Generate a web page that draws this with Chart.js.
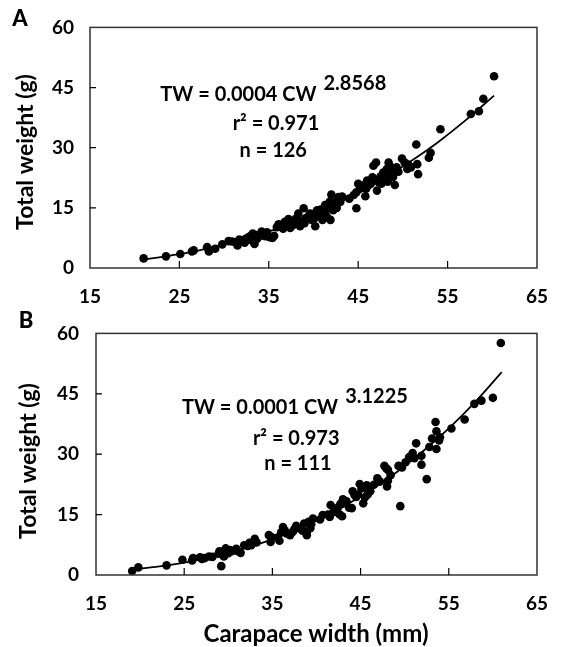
<!DOCTYPE html>
<html>
<head>
<meta charset="utf-8">
<script src="https://cdn.jsdelivr.net/npm/chart.js@4.4.1/dist/chart.umd.min.js"></script>
<style>
  body { margin: 0; background: #fff; width: 565px; height: 647px; position: relative; overflow: hidden; }
  canvas { position: absolute; left: 0; }
</style>
</head>
<body>
<canvas id="chartA" width="565" height="305" style="top:0"></canvas>
<canvas id="chartB" width="565" height="342" style="top:305px"></canvas>
<script>
// axis ticks
const xTicks = [15, 25, 35, 45, 55, 65];
const yTicks = [0, 15, 30, 45, 60];

// panel A: carapace width (mm) vs total weight (g), n = 126
const aWidth = [21.0, 23.5, 25.1, 26.4, 26.6, 28.1, 28.3, 29.0, 30.5, 31.5, 31.7, 32.3, 32.4, 32.9, 33.2, 33.4, 33.7, 34.2, 34.4, 34.8,
  35.1, 35.4, 36.1, 36.5, 37.0, 37.2, 37.4, 37.8, 38.1, 38.3, 38.5, 38.9, 39.1, 39.4, 39.8, 40.1, 40.2, 40.4, 40.5, 41.0,
  41.1, 41.3, 41.5, 41.8, 41.9, 42.0, 42.2, 42.5, 42.8, 43.0, 44.0, 44.8, 44.8, 45.0, 45.2, 45.6, 45.8, 46.0, 46.2, 46.6,
  46.7, 47.0, 47.1, 47.3, 47.6, 48.0, 48.2, 48.4, 48.5, 48.7, 49.0, 49.1, 49.3, 49.9, 50.2, 50.5, 50.9, 51.5, 51.6, 51.7,
  52.9, 53.1, 54.2, 57.6, 58.5, 59.0, 60.2,
  30.9, 31.9, 33.0, 34.0, 34.6, 35.6, 36.3, 36.8, 37.6, 38.0, 38.7, 39.6, 40.8, 41.6, 42.3, 43.2, 45.4, 46.4, 47.8, 48.8,
  49.5, 50.6, 39.0, 40.0, 41.2, 42.6, 44.5, 45.9, 46.9, 47.5, 48.3, 48.9, 36.6, 37.3, 35.9, 33.6, 32.7, 31.3, 29.8];
const aWeight = [2.4, 2.9, 3.5, 4.1, 4.4, 5.2, 4.1, 4.8, 6.7, 5.6, 7.1, 6.3, 7.3, 7.9, 8.6, 6.0, 7.3, 9.1, 8.3, 8.9,
  7.7, 7.5, 10.9, 10.8, 11.2, 12.2, 10.0, 10.8, 11.6, 13.6, 10.4, 14.9, 12.4, 12.8, 12.0, 12.4, 10.4, 14.4, 13.2, 12.0,
  14.0, 15.7, 12.8, 16.5, 12.0, 18.3, 14.4, 16.5, 17.7, 16.5, 17.3, 14.9, 18.9, 21.0, 19.8, 20.6, 17.9, 21.8, 20.7, 22.6,
  25.5, 26.3, 19.3, 21.4, 21.0, 22.4, 24.7, 26.3, 23.0, 25.1, 23.8, 20.7, 25.1, 27.3, 26.3, 24.7, 25.1, 30.8, 25.9, 23.4,
  27.5, 28.7, 34.6, 38.4, 39.1, 42.2, 47.8,
  6.6, 6.8, 7.0, 8.0, 7.9, 8.0, 10.3, 11.5, 11.0, 12.3, 11.8, 13.6, 14.6, 14.8, 15.5, 17.8, 20.2, 21.0, 23.8, 24.3,
  24.0, 25.8, 11.2, 13.5, 12.6, 15.0, 18.2, 19.8, 22.0, 22.8, 21.5, 22.7, 9.8, 10.5, 10.2, 8.2, 7.6, 6.4, 5.9];
// fitted curve as drawn in panel A
const aFitWidth = [21, 24, 27, 30, 33, 36, 39, 42, 45, 48, 51, 54, 57, 60.2];
const aFitWeight = [2.1, 3.1, 4.3, 5.9, 7.7, 9.9, 12.4, 15.4, 18.7, 22.5, 26.8, 31.5, 36.8, 43.0];

// panel B: n = 111
const bWidth = [19.1, 19.8, 23.0, 24.8, 25.9, 26.0, 26.8, 27.3, 27.8, 28.9, 29.0, 29.2, 29.4, 29.7, 30.0, 30.4, 30.9, 31.4, 31.8, 32.2,
  32.6, 33.0, 34.6, 34.8, 35.6, 35.8, 36.2, 36.4, 37.0, 37.3, 37.7, 38.2, 38.6, 38.9, 38.9, 39.1, 39.3, 39.6, 40.7, 41.3,
  41.5, 41.6, 42.4, 42.6, 42.9, 43.0, 43.1, 43.7, 44.0, 44.1, 44.3, 44.7, 44.9, 45.3, 45.5, 45.7, 45.9, 46.1, 46.9, 47.7,
  47.9, 48.1, 48.0, 48.1, 49.3, 49.5, 49.7, 50.5, 50.9, 51.3, 51.9, 51.9, 52.5, 53.1, 53.5, 53.6, 53.6, 54.0, 55.3, 57.9,
  58.7, 60.0, 60.9,
  27.0, 28.2, 29.5, 30.2, 31.1, 32.4, 33.2, 34.9, 36.0, 36.6, 37.5, 38.4, 39.4, 40.4, 41.9, 42.7, 43.4, 44.5, 45.1, 45.8,
  46.5, 47.2, 48.4, 50.1, 51.1, 52.8, 53.9, 56.8];
const bWeight = [1.0, 1.9, 2.4, 3.8, 3.6, 4.2, 4.4, 4.2, 4.6, 5.3, 5.9, 2.2, 5.0, 6.6, 5.4, 5.9, 6.5, 5.5, 7.4, 7.2,
  7.4, 9.0, 9.9, 8.2, 9.3, 8.5, 11.9, 11.1, 9.9, 10.7, 12.2, 11.5, 12.8, 9.9, 10.7, 13.2, 11.6, 14.0, 14.9, 15.0,
  14.4, 17.4, 16.7, 15.1, 14.6, 18.8, 17.8, 16.7, 16.6, 20.8, 19.9, 20.0, 22.6, 17.8, 19.3, 22.3, 21.1, 20.8, 24.0, 27.1,
  26.5, 23.4, 22.0, 26.1, 27.1, 17.1, 26.7, 29.3, 30.3, 32.7, 29.6, 27.4, 23.8, 33.9, 38.0, 35.7, 31.3, 34.2, 36.4, 42.5,
  43.3, 44.0, 57.6,
  4.0, 4.5, 4.6, 6.2, 5.9, 8.0, 8.1, 9.4, 10.6, 10.3, 11.4, 11.0, 12.6, 13.8, 15.6, 17.6, 18.3, 19.4, 21.5, 20.0,
  22.4, 23.2, 24.8, 28.0, 29.0, 31.8, 33.4, 38.6];
const bFitWidth = [19.3, 22, 25, 28, 31, 34, 37, 40, 43, 46, 49, 52, 55, 58, 61];
const bFitWeight = [1.4, 2.1, 3.1, 4.4, 6.1, 8.1, 10.6, 13.5, 16.9, 20.9, 25.4, 30.6, 36.4, 43.0, 50.4];

const FONT = 'Lato, "Open Sans", sans-serif';

const panelPlugin = {
  id: 'panel',
  afterDraw(chart, args, o) {
    const ctx = chart.ctx;
    const a = chart.chartArea;
    const xs = chart.scales.x, ys = chart.scales.y;
    ctx.save();
    // frame
    ctx.strokeStyle = '#333';
    ctx.lineWidth = 1.5;
    ctx.strokeRect(a.left, a.top, a.right - a.left, a.bottom - a.top);
    // inside tick marks
    ctx.beginPath();
    xTicks.slice(1, -1).forEach(v => {
      const px = xs.getPixelForValue(v);
      ctx.moveTo(px, a.bottom); ctx.lineTo(px, a.bottom - 7);
    });
    yTicks.slice(1, -1).forEach(v => {
      const py = ys.getPixelForValue(v);
      ctx.moveTo(a.left, py); ctx.lineTo(a.left + 6, py);
    });
    ctx.lineWidth = 1.2;
    ctx.strokeStyle = '#000';
    ctx.stroke();

    ctx.fillStyle = '#000';
    ctx.textBaseline = 'middle';
    // panel letter
    ctx.textAlign = 'center';
    ctx.font = '900 22px ' + FONT;
    ctx.fillText(o.letter[0], o.letter[1], o.letter[2]);
    // y title
    ctx.save();
    ctx.translate(o.yTitle[0], o.yTitle[1]);
    ctx.rotate(-Math.PI / 2);
    ctx.font = 'bold 23px ' + FONT;
    ctx.fillText('Total weight (g)', 0, 0);
    ctx.restore();
    // x title
    if (o.xTitle) {
      ctx.font = 'bold 24px ' + FONT;
      ctx.fillText('Carapace width (mm)', o.xTitle[0], o.xTitle[1]);
    }
    // equation block
    const n = o.note;
    ctx.font = 'bold 20px ' + FONT;
    const ex = xs.getPixelForValue(n.eqAt[0]), ey = ys.getPixelForValue(n.eqAt[1]);
    ctx.fillText(n.eq, ex, ey);
    const eqRight = ex + ctx.measureText(n.eq).width / 2;
    ctx.fillText(n.r2, xs.getPixelForValue(n.r2At[0]), ys.getPixelForValue(n.r2At[1]));
    ctx.fillText(n.n, xs.getPixelForValue(n.nAt[0]), ys.getPixelForValue(n.nAt[1]));
    ctx.textAlign = 'left';
    ctx.font = 'bold 20px ' + FONT;
    ctx.fillText(n.exp, eqRight + 7, ey - 11);
    ctx.restore();
  }
};

function makePanel(id, px, py, fx, fy, box, panelOpts) {
  const cv = document.getElementById(id);
  const W = cv.width, H = cv.height;
  const tickFont = { family: FONT, size: 19, weight: 'bold' };
  return new Chart(cv, {
    type: 'scatter',
    data: {
      datasets: [{
        data: px.map((x, i) => ({ x: x, y: py[i] })),
        backgroundColor: '#000',
        borderWidth: 0,
        pointRadius: 4.3,
        order: 1
      }, {
        data: fx.map((x, i) => ({ x: x, y: fy[i] })),
        showLine: true,
        borderColor: '#000',
        borderWidth: 1.8,
        pointRadius: 0,
        tension: 0.4,
        order: 0
      }]
    },
    options: {
      responsive: false,
      animation: false,
      events: [],
      layout: { padding: { top: box.top, right: W - box.right, left: 0, bottom: 0 } },
      plugins: { legend: { display: false }, tooltip: { enabled: false }, panel: panelOpts },
      scales: {
        x: {
          type: 'linear', min: 15, max: 65,
          afterBuildTicks: s => { s.ticks = xTicks.map(v => ({ value: v })); },
          afterFit: s => { s.height = H - box.bottom; },
          grid: { display: false, drawTicks: false },
          border: { display: false },
          ticks: { font: tickFont, color: '#000', padding: box.xPad, maxRotation: 0, autoSkip: false }
        },
        y: {
          type: 'linear', min: 0, max: 60,
          afterBuildTicks: s => { s.ticks = yTicks.map(v => ({ value: v })); },
          afterFit: s => { s.width = box.left; },
          grid: { display: false, drawTicks: false },
          border: { display: false },
          ticks: { font: tickFont, color: '#000', padding: box.yPad }
        }
      }
    },
    plugins: [panelPlugin]
  });
}

makePanel('chartA', aWidth, aWeight, aFitWidth, aFitWeight,
  { left: 90, right: 550, top: 22, bottom: 268, xPad: 17, yPad: 16 },
  {
    letter: ['A', 20, 19],
    yTitle: [26, 152],
    note: {
      eq: 'TW = 0.0004 CW', eqAt: [31.6, 43.2],
      exp: '2.8568',
      r2: 'r² = 0.971', r2At: [35.8, 36.0],
      n: 'n = 126', nAt: [35.5, 29.3]
    }
  });

makePanel('chartB', bWidth, bWeight, bFitWidth, bFitWeight,
  { left: 96, right: 550, top: 22, bottom: 270, xPad: 17, yPad: 17 },
  {
    letter: ['B', 26, 16],
    yTitle: [29, 156],
    xTitle: [316, 329],
    note: {
      eq: 'TW = 0.0001 CW', eqAt: [33.6, 41.5],
      exp: '3.1225',
      r2: 'r² = 0.973', r2At: [37.7, 34.0],
      n: 'n = 111', nAt: [37.9, 27.7]
    }
  });
</script>
</body>
</html>
